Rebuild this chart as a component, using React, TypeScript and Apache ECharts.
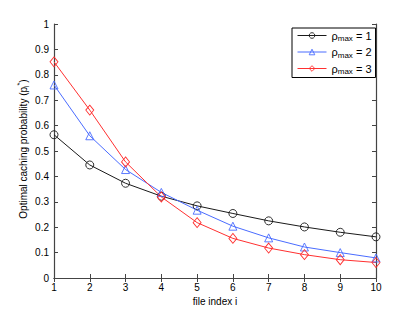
import React, { useEffect, useRef } from "react";
import * as echarts from "echarts";

const fileIndex = [1, 2, 3, 4, 5, 6, 7, 8, 9, 10];
const rhoMax1 = [0.564, 0.445, 0.373, 0.322, 0.284, 0.254, 0.225, 0.201, 0.18, 0.162];
const rhoMax2 = [0.76, 0.56, 0.427, 0.337, 0.267, 0.204, 0.158, 0.122, 0.1, 0.079];
const rhoMax3 = [0.851, 0.661, 0.457, 0.319, 0.218, 0.156, 0.118, 0.092, 0.072, 0.061];
const seriesNames = ["1", "2", "3"];
const seriesColors = ["#1a1a1a", "#4a6cff", "#ff3030"];
const seriesSymbols = ["circle", "triangle", "diamond"];
const seriesValues = [rhoMax1, rhoMax2, rhoMax3];

const FONT = "'Liberation Sans', Arial, Helvetica, sans-serif";

export default function App() {
  const ref = useRef<HTMLDivElement>(null);
  useEffect(() => {
    if (!ref.current) return;
    const chart = echarts.init(ref.current, null, { renderer: "svg" });
    const axisLine = { show: true, lineStyle: { color: "#444", width: 1.2 } };
    const axisTick = { show: true, inside: true, length: 4, lineStyle: { color: "#444" } };
    const option: any = {
      animation: false,
      backgroundColor: "#fff",
      textStyle: { fontFamily: FONT },
      grid: { left: 54, right: 39, top: 24, bottom: 35, containLabel: false },
      legend: {
        orient: "vertical",
        left: 292,
        top: 28,
        itemWidth: 29,
        itemHeight: 7,
        itemGap: 4,
        padding: [2, 4, 2, 5],
        borderColor: "#000",
        borderWidth: 1,
        borderRadius: 0,
        backgroundColor: "#fff",
        lineStyle: { width: 1 },
        itemStyle: { color: "rgba(255,255,255,0)", borderWidth: 0.9 },
        data: seriesNames.map((n) => "ρmax = " + n),
        formatter: (name: string) => `{r|ρ}{s|max}{r| = ${name.split("= ")[1]}}`,
        textStyle: {
          fontFamily: FONT,
          color: "#000",
          rich: {
            r: { fontSize: 11, lineHeight: 14, fontFamily: FONT, color: "#000", verticalAlign: "middle" },
            s: { fontSize: 8, lineHeight: 7, fontFamily: FONT, color: "#000", verticalAlign: "bottom" },
          },
        },
      },
      xAxis: [
        {
          type: "value",
          min: 1,
          max: 10,
          interval: 1,
          position: "bottom",
          name: "file index i",
          nameLocation: "middle",
          nameGap: 14,
          nameTextStyle: { fontSize: 10, color: "#000", fontFamily: FONT },
          axisLine,
          axisTick,
          splitLine: { show: false },
          axisLabel: { fontSize: 10, color: "#000", margin: 4, fontFamily: FONT },
        },
        {
          type: "value",
          min: 1,
          max: 10,
          interval: 1,
          position: "top",
          axisLine,
          axisTick,
          splitLine: { show: false },
          axisLabel: { show: false },
        },
      ],
      yAxis: [
        {
          type: "value",
          min: 0,
          max: 1,
          interval: 0.1,
          position: "left",
          axisLine,
          axisTick,
          splitLine: { show: false },
          axisLabel: { fontSize: 10, color: "#000", margin: 5, fontFamily: FONT },
        },
        {
          type: "value",
          min: 0,
          max: 1,
          interval: 0.1,
          position: "right",
          axisLine,
          axisTick,
          splitLine: { show: false },
          axisLabel: { show: false },
        },
      ],
      graphic: [
        {
          type: "text",
          x: 23,
          y: 149,
          rotation: Math.PI / 2,
          style: {
            text: "{a|Optimal caching probability (p}{s|i}{t|*}{a|)}",
            align: "center",
            verticalAlign: "middle",
            fill: "#000",
            rich: {
              a: { fontSize: 10, fontFamily: FONT, lineHeight: 14, fill: "#000", verticalAlign: "middle" },
              s: { fontSize: 7, fontFamily: FONT, lineHeight: 6, fill: "#000", verticalAlign: "bottom" },
              t: { fontSize: 7, fontFamily: FONT, lineHeight: 6, fill: "#000", verticalAlign: "top" },
            },
          },
        },
      ],
      series: seriesValues.map((vals, k) => ({
        name: "ρmax = " + seriesNames[k],
        type: "line",
        xAxisIndex: 0,
        yAxisIndex: 0,
        data: fileIndex.map((x, i) => [x, vals[i]]),
        symbol: seriesSymbols[k],
        symbolSize: k === 2 ? [8, 10] : 8,
        color: seriesColors[k],
        lineStyle: { color: seriesColors[k], width: 1 },
        itemStyle: { color: "rgba(255,255,255,0)", borderColor: seriesColors[k], borderWidth: 0.9 },
      })),
    };
    chart.setOption(option);
    return () => chart.dispose();
  }, []);
  return (
    <div
      ref={ref}
      style={{ position: "absolute", left: 0, top: 0, width: 415, height: 313, background: "#fff" }}
    />
  );
}
